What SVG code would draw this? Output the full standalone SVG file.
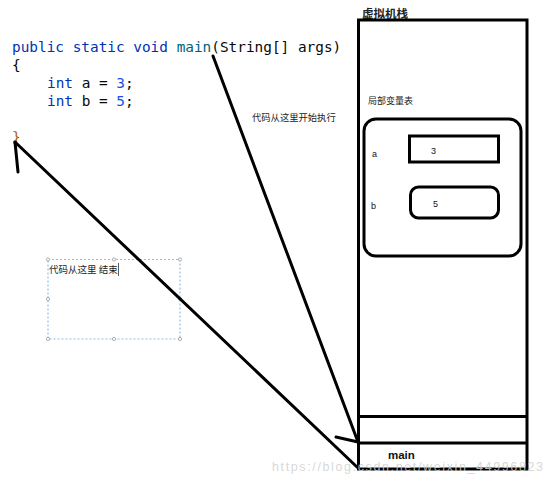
<svg xmlns="http://www.w3.org/2000/svg" width="553" height="484" viewBox="0 0 553 484">
<style>
.code{font-family:"DejaVu Sans Mono","Liberation Mono",monospace;font-size:14.4px;fill:#080808}
.kw{fill:#0033b3}
.fn{fill:#00627a}
.num{fill:#1750eb}
.cn{font-family:"Noto Sans CJK SC","Microsoft YaHei",sans-serif;fill:#222}
.lbl{font-family:"Liberation Sans",Arial,sans-serif;fill:#111}
.thick{fill:none;stroke:#000;stroke-width:3}
.line{stroke:#000;stroke-width:3;stroke-linecap:round;fill:none}
.handle{fill:#fff;stroke:#9a9a9a;stroke-width:0.8}
</style>
<rect width="553" height="484" fill="#fff"/>
<g id="code">
<text class="code" x="12" y="52"><tspan class="kw">public static void </tspan><tspan class="fn">main</tspan>(String[] args)</text>
<text class="code" x="12" y="70">{</text>
<text class="code" x="47" y="88"><tspan class="kw">int</tspan> a = <tspan class="num">3</tspan>;</text>
<text class="code" x="47" y="106"><tspan class="kw">int</tspan> b = <tspan class="num">5</tspan>;</text>
<text class="code" x="12" y="142" style="fill:#b06000">}</text>
</g>
<g id="stack">
<text class="cn" x="362" y="18" font-size="11.5" font-weight="bold" fill="#000">虚拟机栈</text>
<rect class="thick" x="358.5" y="20" width="168.5" height="449"/>
<line class="thick" x1="358" y1="416.5" x2="527" y2="416.5"/>
<line class="thick" x1="358" y1="443" x2="527" y2="443"/>
</g>
<g id="locals">
<text class="cn" x="368" y="104" font-size="9">局部变量表</text>
<rect class="thick" x="364" y="119" width="157" height="137" rx="12"/>
</g>
<g id="var-a">
<text class="lbl" x="372" y="157" font-size="9">a</text>
<rect class="thick" x="409.5" y="136" width="89" height="26"/>
<text class="lbl" x="431" y="154" font-size="9">3</text>
</g>
<g id="var-b">
<text class="lbl" x="371" y="209" font-size="9">b</text>
<rect class="thick" x="410.5" y="187" width="88" height="31" rx="8"/>
<text class="lbl" x="433" y="207" font-size="9">5</text>
</g>
<g id="main-frame">
<text class="lbl" x="388" y="458.5" font-size="11.5" font-weight="bold" fill="#000">main</text>
</g>
<g id="start-label">
<text class="cn" x="252" y="121" font-size="9.3">代码从这里开始执行</text>
</g>
<g id="end-label">
<rect x="48" y="259.5" width="132" height="79.5" fill="none" stroke="#8cbfe8" stroke-width="1.2" stroke-dasharray="2,2"/>
<circle class="handle" cx="48" cy="259.5" r="1.6"/>
<circle class="handle" cx="114" cy="259.5" r="1.6"/>
<circle class="handle" cx="180" cy="259.5" r="1.6"/>
<circle class="handle" cx="48" cy="299" r="1.6"/>
<circle class="handle" cx="180" cy="299" r="1.6"/>
<circle class="handle" cx="48" cy="339" r="1.6"/>
<circle class="handle" cx="114" cy="339" r="1.6"/>
<circle class="handle" cx="180" cy="339" r="1.6"/>
<text class="cn" x="49" y="273" font-size="9.5">代码从这里 结束</text>
<line x1="118.5" y1="263" x2="118.5" y2="276" stroke="#333" stroke-width="0.8"/>
</g>
<g id="connectors">
<line class="line" x1="213" y1="56" x2="358" y2="442"/>
<line class="line" x1="336" y1="437" x2="358" y2="442"/>
<line class="line" x1="15" y1="142" x2="357" y2="467"/>
<line class="line" x1="15" y1="142" x2="18" y2="172"/>
</g>
<text x="272" y="471" font-family="Liberation Sans,Arial,sans-serif" font-size="12.5" fill="#d0d0d0" fill-opacity="0.85" textLength="271">https://blog.csdn.net/weixin_44996823</text>
</svg>
